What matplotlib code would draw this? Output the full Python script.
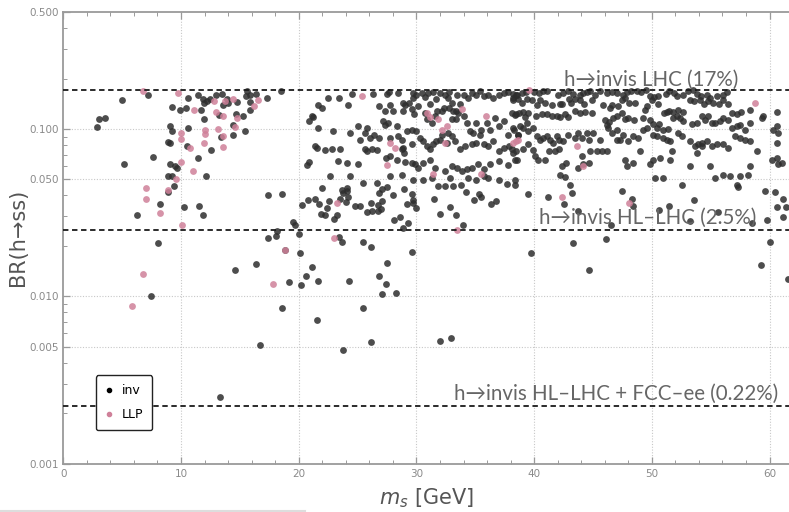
import matplotlib
matplotlib.use("Agg")
import matplotlib.pyplot as plt
from matplotlib.ticker import FixedLocator, FixedFormatter, LogLocator, MultipleLocator, NullFormatter
from matplotlib.lines import Line2D

# invisible-decay points (black)
inv = [
    (2.84, 0.102), (3.06, 0.114), (3.54, 0.116), (4.96, 0.149), (5.13, 0.062), (7.2, 0.16), (7.6, 0.068),
    (9.07, 0.104), (9.26, 0.097), (9.26, 0.136), (8.87, 0.083), (9.07, 0.082), (9.07, 0.062), (9.46, 0.060),
    (9.69, 0.058), (9.94, 0.129), (10.4, 0.133), (10.62, 0.152), (10.57, 0.101), (10.54, 0.079), (11.47, 0.16),
    (11.7, 0.13), (11.84, 0.15), (11.95, 0.143), (12.2, 0.146), (12.46, 0.15), (11.95, 0.115), (11.47, 0.067),
    (12.55, 0.075), (12.97, 0.16), (13.25, 0.121), (13.4, 0.09), (13.48, 0.162), (13.88, 0.15), (13.97, 0.142),
    (13.6, 0.138), (14.73, 0.145), (14.67, 0.122), (15.24, 0.119), (14.39, 0.105), (14.42, 0.092), (15.44, 0.097),
    (15.58, 0.168), (15.52, 0.158), (15.86, 0.16), (15.86, 0.145), (15.84, 0.13), (16.35, 0.162),
    (12.12, 0.0526), (8.92, 0.0526), (9.26, 0.0526), (9.4, 0.0454), (8.92, 0.042), (8.22, 0.0356), (6.29, 0.0304),
    (10.28, 0.0343), (11.55, 0.0346), (11.87, 0.0304), (8.07, 0.0207), (7.42, 0.0100), (14.59, 0.0143),
    (16.4, 0.0156), (16.7, 0.0051), (13.34, 0.0025),
    (17.3, 0.153), (18.5, 0.168), (21.1, 0.119), (20.9, 0.111), (21.2, 0.118), (21.66, 0.138), (21.95, 0.133),
    (21.6, 0.101), (22.5, 0.153), (22.94, 0.097), (23.45, 0.153), (24.16, 0.138), (24.5, 0.162), (26.34, 0.162),
    (27.47, 0.162), (27.7, 0.165), (26.85, 0.137), (27.33, 0.128), (27.75, 0.138), (27.98, 0.128), (28.46, 0.163),
    (28.9, 0.143), (29.03, 0.138), (28.83, 0.128), (29.4, 0.142), (29.68, 0.164), (29.74, 0.153), (30.0, 0.160),
    (29.6, 0.131), (29.8, 0.122), (30.16, 0.137),
    (30.45, 0.164), (30.73, 0.155), (31.0, 0.164), (31.4, 0.166), (31.15, 0.14), (31.7, 0.151), (32.0, 0.164),
    (32.43, 0.16), (32.7, 0.153), (32.8, 0.166), (33.0, 0.143), (33.42, 0.16), (33.36, 0.128), (33.7, 0.14),
    (34.0, 0.16), (34.4, 0.153), (34.7, 0.164), (35.1, 0.16), (35.4, 0.168), (35.7, 0.157), (36.1, 0.16),
    (36.5, 0.153), (37.0, 0.16), (37.4, 0.164), (37.8, 0.166), (38.2, 0.153), (38.5, 0.16),
    (30.73, 0.125), (30.87, 0.114), (31.3, 0.109), (31.58, 0.12), (31.78, 0.128), (32.14, 0.128), (32.3, 0.134),
    (32.8, 0.134), (33.14, 0.128), (33.56, 0.125), (33.0, 0.114), (33.4, 0.114), (34.0, 0.119), (34.26, 0.109),
    (34.55, 0.097), (34.83, 0.095), (35.1, 0.109), (35.5, 0.099), (36.0, 0.109), (36.25, 0.099), (36.7, 0.116),
    (37.0, 0.104), (37.4, 0.111), (37.8, 0.0925), (38.2, 0.101), (38.5, 0.122), (38.66, 0.0925),
    (24.36, 0.0947), (25.06, 0.1037), (25.2, 0.0864), (25.77, 0.101), (25.63, 0.0947), (26.06, 0.088),
    (26.4, 0.0925), (26.85, 0.088), (27.2, 0.111), (27.33, 0.106), (27.6, 0.1086), (27.75, 0.088), (28.32, 0.1037),
    (28.46, 0.0904), (28.75, 0.0864), (28.9, 0.077), (29.17, 0.097), (29.6, 0.099), (29.65, 0.0807), (30.0, 0.097),
    (30.3, 0.088), (30.6, 0.0845), (30.87, 0.0789), (31.15, 0.0753), (31.4, 0.081), (31.7, 0.0845), (32.0, 0.0864),
    (32.57, 0.0825), (32.14, 0.0925), (32.7, 0.0947), (33.0, 0.0904), (33.3, 0.0845), (33.7, 0.0753),
    (34.1, 0.0789), (34.7, 0.0807), (35.1, 0.0825), (35.4, 0.0925), (35.7, 0.0807), (36.1, 0.0789),
    (36.5, 0.0845), (37.0, 0.0736), (37.4, 0.077), (37.9, 0.0789), (38.5, 0.0736),
    (21.38, 0.0789), (21.52, 0.077), (22.23, 0.0746), (22.8, 0.0753), (23.5, 0.0753), (23.36, 0.0641),
    (24.07, 0.0627), (25.06, 0.0613), (25.63, 0.0753), (25.77, 0.0736), (26.2, 0.0753), (26.62, 0.0746),
    (27.4, 0.0672), (27.75, 0.0687), (28.32, 0.0656), (28.75, 0.0753), (28.94, 0.0719), (29.03, 0.0632),
    (29.6, 0.0627), (29.88, 0.0613), (30.16, 0.0585), (30.6, 0.0627), (31.15, 0.0656), (31.58, 0.0585),
    (32.43, 0.0559), (33.0, 0.0599), (33.42, 0.0585), (33.84, 0.0559), (34.27, 0.0572), (34.7, 0.0585),
    (35.26, 0.0613), (35.7, 0.0577), (36.25, 0.0613), (37.0, 0.0641), (37.8, 0.0605), (38.4, 0.0656),
    (20.7, 0.0605), (20.9, 0.0632), (22.66, 0.0521), (24.36, 0.0521), (25.5, 0.0476), (26.62, 0.0476),
    (27.75, 0.0521), (28.75, 0.0533), (29.68, 0.0498), (30.6, 0.0498), (31.3, 0.051), (32.85, 0.051),
    (34.4, 0.051), (35.1, 0.0498), (35.7, 0.0521), (36.1, 0.051), (37.0, 0.0498), (38.4, 0.0498),
    (21.95, 0.0444), (17.42, 0.0405), (18.6, 0.041), (20.3, 0.0353), (20.76, 0.0374), (21.4, 0.0383),
    (21.7, 0.0356), (21.87, 0.031), (22.26, 0.0304), (22.38, 0.0337), (22.57, 0.0369), (22.97, 0.029),
    (23.28, 0.0304), (23.5, 0.0382), (23.65, 0.043), (23.74, 0.0415), (24.08, 0.0424), (24.05, 0.0366),
    (24.16, 0.039), (24.13, 0.0444), (24.8, 0.0345), (25.2, 0.0348), (25.78, 0.0319), (26.1, 0.036),
    (26.25, 0.0322), (26.7, 0.0322), (27.0, 0.033), (26.7, 0.0353), (27.1, 0.0369), (26.85, 0.0414),
    (27.05, 0.0438), (27.48, 0.045), (28.04, 0.0405), (28.1, 0.0287), (28.6, 0.0298), (28.95, 0.0438),
    (28.9, 0.0254), (29.3, 0.0274), (29.2, 0.0358), (29.65, 0.041), (29.7, 0.036), (29.7, 0.0378), (30.0, 0.0337),
    (31.52, 0.0382), (31.86, 0.0454), (32.03, 0.031), (32.43, 0.0454), (32.83, 0.0342), (33.14, 0.0454),
    (33.36, 0.0304), (33.98, 0.0265), (34.2, 0.042), (34.9, 0.0374), (35.3, 0.041), (35.5, 0.0394),
    (36.34, 0.0358), (36.8, 0.0369), (38.38, 0.0465), (33.76, 0.0465), (37.67, 0.0466),
    (19.54, 0.0276), (19.68, 0.0268), (17.42, 0.0224), (18.07, 0.023), (18.18, 0.0245), (20.05, 0.0236),
    (23.45, 0.0226), (23.7, 0.021), (25.44, 0.021), (26.14, 0.0197), (29.6, 0.0183), (18.84, 0.019),
    (20.1, 0.0182), (21.16, 0.0149), (20.6, 0.0132), (20.2, 0.0116), (19.18, 0.0121), (21.64, 0.0124),
    (24.3, 0.0124), (27.5, 0.0158), (26.8, 0.0132), (27.45, 0.0119), (27.05, 0.0103), (28.24, 0.0104),
    (18.6, 0.0085), (25.44, 0.0085), (21.56, 0.0072), (26.14, 0.0053), (23.8, 0.0048), (32.03, 0.0054),
    (32.97, 0.0056),
    (38.18, 0.162), (38.52, 0.160), (38.94, 0.164), (39.31, 0.165), (39.99, 0.165), (40.44, 0.164), (40.78, 0.168),
    (41.12, 0.169), (42.06, 0.160), (42.48, 0.164), (42.91, 0.169), (43.33, 0.162), (43.9, 0.160), (44.18, 0.164),
    (44.52, 0.165), (44.75, 0.168), (45.17, 0.160), (45.6, 0.168), (46.16, 0.164), (46.59, 0.165), (47.01, 0.164),
    (47.58, 0.160), (47.86, 0.165), (48.2, 0.169), (48.71, 0.168), (49.05, 0.165), (49.5, 0.170), (49.84, 0.158),
    (50.18, 0.155), (50.55, 0.157), (51.2, 0.161), (51.49, 0.168), (51.88, 0.164), (52.11, 0.158), (52.68, 0.160),
    (53.1, 0.168), (53.47, 0.170), (53.81, 0.162), (54.15, 0.157), (54.66, 0.160), (54.94, 0.153), (55.51, 0.158),
    (56.08, 0.160), (56.41, 0.165),
    (38.23, 0.1497), (38.66, 0.150), (38.94, 0.143), (39.37, 0.150), (39.79, 0.1497), (40.22, 0.139), (40.5, 0.1497),
    (40.92, 0.143), (41.49, 0.139), (42.2, 0.141), (42.34, 0.14), (42.99, 0.150), (43.1, 0.143), (43.47, 0.151),
    (43.9, 0.1497), (44.24, 0.14), (44.89, 0.1497), (45.88, 0.139), (46.59, 0.139), (46.45, 0.133), (47.15, 0.137),
    (47.44, 0.1497), (47.72, 0.153), (48.09, 0.143), (48.57, 0.143), (49.56, 0.137), (49.42, 0.1305), (49.99, 0.1497),
    (50.55, 0.14), (51.03, 0.125), (51.26, 0.126), (51.49, 0.128), (51.83, 0.126), (52.25, 0.1305), (52.68, 0.126),
    (53.24, 0.1497), (53.61, 0.147), (54.09, 0.1497), (54.43, 0.14), (54.8, 0.147), (55.17, 0.143), (55.74, 0.14),
    (56.08, 0.1497), (56.5, 0.14), (56.78, 0.1246), (57.21, 0.122), (57.55, 0.126), (58.34, 0.1305), (59.47, 0.119),
    (60.6, 0.126),
    (38.1, 0.1246), (38.37, 0.121), (38.74, 0.124), (39.08, 0.126), (39.22, 0.117), (39.51, 0.1246), (40.16, 0.12),
    (40.64, 0.122), (41.07, 0.122), (41.49, 0.119), (41.9, 0.12), (42.2, 0.118), (42.62, 0.122), (42.91, 0.118),
    (43.47, 0.1276), (43.9, 0.1246), (44.32, 0.126), (44.89, 0.1246), (46.02, 0.1137), (46.39, 0.110),
    (46.73, 0.1165), (47.01, 0.119), (47.44, 0.1246), (47.72, 0.114), (48.0, 0.116), (48.49, 0.1137),
    (49.28, 0.1165), (49.84, 0.1137), (50.13, 0.107), (50.41, 0.1015), (50.64, 0.107), (50.98, 0.099), (51.4, 0.100),
    (51.83, 0.116), (52.11, 0.119), (52.39, 0.116), (52.68, 0.1112), (53.38, 0.1075), (53.81, 0.1086),
    (54.23, 0.119), (54.52, 0.1137), (54.8, 0.119), (55.08, 0.1086), (55.37, 0.1086), (55.79, 0.111),
    (56.08, 0.1165), (56.5, 0.1137), (56.78, 0.1015), (57.21, 0.1037), (57.49, 0.106), (57.92, 0.099),
    (58.34, 0.1086), (59.33, 0.116), (60.32, 0.099), (60.6, 0.1037), (60.75, 0.0947),
    (38.29, 0.0991), (38.66, 0.0925), (38.8, 0.1037), (39.08, 0.1015), (39.37, 0.1086), (39.51, 0.0969),
    (39.93, 0.1015), (40.22, 0.0904), (40.5, 0.0864), (40.78, 0.0884), (41.07, 0.0904), (41.35, 0.0864),
    (41.57, 0.0825), (41.9, 0.0904), (42.14, 0.0864), (42.48, 0.0845), (42.91, 0.0925), (43.47, 0.0884),
    (43.76, 0.0947), (44.04, 0.0884), (44.52, 0.0947), (44.69, 0.0864), (45.03, 0.0947), (45.6, 0.0864),
    (46.16, 0.1062), (46.3, 0.1015), (46.59, 0.0947), (47.01, 0.0991), (47.3, 0.0864), (47.58, 0.0925),
    (48.0, 0.0845), (48.43, 0.0904), (48.85, 0.0884), (49.28, 0.0991), (49.56, 0.1015), (50.07, 0.0925),
    (50.41, 0.0904), (50.98, 0.0884), (51.26, 0.0864), (51.54, 0.0845), (52.25, 0.0947), (52.59, 0.0904),
    (53.24, 0.0845), (53.67, 0.0789), (53.95, 0.0807), (54.23, 0.0825), (54.66, 0.0845), (55.08, 0.0789),
    (55.51, 0.0807), (56.08, 0.0817), (56.5, 0.0771), (57.07, 0.0904), (57.49, 0.0884), (57.92, 0.0864),
    (58.34, 0.0845), (60.6, 0.0825),
    (38.1, 0.0753), (38.23, 0.0719), (38.57, 0.0656), (39.08, 0.0753), (39.51, 0.0807), (39.88, 0.0746),
    (40.07, 0.0687), (40.36, 0.0656), (40.92, 0.0656), (41.29, 0.0736), (41.77, 0.0736), (42.14, 0.0753),
    (42.34, 0.0599), (42.71, 0.0627), (42.2, 0.0533), (42.62, 0.0515), (43.05, 0.0465), (43.76, 0.0585),
    (44.04, 0.0687), (44.18, 0.0613), (44.69, 0.0627), (44.75, 0.0736), (45.31, 0.0736), (45.74, 0.0736),
    (46.16, 0.0736), (47.01, 0.0864), (47.72, 0.0656), (47.86, 0.0599), (48.43, 0.0627), (48.99, 0.0736),
    (49.84, 0.0613), (50.13, 0.0656), (50.27, 0.051), (50.69, 0.0672), (50.98, 0.051), (51.54, 0.0656),
    (51.69, 0.0736), (52.54, 0.046), (53.24, 0.0599), (53.81, 0.0719), (54.23, 0.0789), (54.94, 0.0599),
    (55.37, 0.051), (56.08, 0.0533), (56.64, 0.0521), (57.21, 0.046), (57.49, 0.0521), (58.2, 0.0533),
    (58.34, 0.0599), (58.91, 0.0736), (60.18, 0.0656), (60.6, 0.0672), (60.75, 0.0613), (61.03, 0.0627),
    (39.5, 0.041), (41.15, 0.039), (42.54, 0.0356), (43.2, 0.0414), (39.74, 0.018), (43.28, 0.0207),
    (44.7, 0.0143), (46.1, 0.022), (46.5, 0.0268), (43.7, 0.0322), (47.5, 0.0424), (48.3, 0.0382),
    (48.4, 0.0345), (50.6, 0.0326), (51.46, 0.0345), (53.6, 0.0374), (53.24, 0.0281), (55.65, 0.0319),
    (57.3, 0.045), (58.54, 0.0274), (59.6, 0.0424), (60.5, 0.042), (61.17, 0.038), (60.67, 0.034),
    (61.4, 0.034), (61.1, 0.0299), (59.8, 0.0287), (60.0, 0.021), (59.3, 0.0154), (61.6, 0.0126),
]

# long-lived particle points (pink)
llp = [
    (6.8, 0.168), (9.97, 0.095), (9.97, 0.087), (9.97, 0.063), (9.72, 0.164), (10.76, 0.077), (11.13, 0.129),
    (12.0, 0.098), (12.0, 0.093), (11.95, 0.082), (12.83, 0.146), (12.97, 0.126), (13.12, 0.1), (13.54, 0.119),
    (13.6, 0.091), (13.6, 0.078), (13.74, 0.146), (14.39, 0.151), (14.73, 0.116), (14.6, 0.102), (16.2, 0.137),
    (16.52, 0.148),
    (11.05, 0.056), (9.58, 0.050), (8.87, 0.043), (7.03, 0.0444), (7.03, 0.038), (8.22, 0.0314), (10.06, 0.0268),
    (6.8, 0.0135), (5.86, 0.0087),
    (25.35, 0.157), (30.9, 0.125), (31.15, 0.117), (31.86, 0.115), (32.2, 0.099), (32.57, 0.104), (32.4, 0.0825),
    (33.9, 0.132), (35.9, 0.12), (27.75, 0.082), (28.18, 0.0767), (27.47, 0.061), (31.4, 0.054), (35.46, 0.054),
    (23.28, 0.0361), (22.97, 0.0224), (17.82, 0.0119), (18.84, 0.019), (33.48, 0.0249),
    (39.59, 0.170), (58.77, 0.142), (38.23, 0.0825), (38.46, 0.0845), (38.66, 0.0864), (43.61, 0.0789),
    (44.12, 0.0599), (42.4, 0.039), (48.06, 0.036),
]

# h -> invisible limits
limits = [0.17, 0.025, 0.0022]
limit_labels = ["h\u2192invis LHC (17%)", "h\u2192invis HL\u2013LHC (2.5%)",
                "h\u2192invis HL\u2013LHC + FCC\u2013ee (0.22%)"]
label_x = [57.3, 58.9, 60.7]
label_y = [0.1815, 0.0272, 0.00241]

ytick_vals = [0.001, 0.005, 0.010, 0.050, 0.100, 0.500]
ytick_text = ["0.001", "0.005", "0.010", "0.050", "0.100", "0.500"]

fig = plt.figure(figsize=(7.89, 5.12), dpi=100)
ax = fig.add_axes([0.0802, 0.0947, 0.9198, 0.882])

ax.set_yscale("log")
ax.set_xlim(0, 61.65)
ax.set_ylim(0.001, 0.5)

# grid
for gx in [10, 20, 30, 40, 50, 60]:
    ax.axvline(gx, color="#c8c8c8", lw=0.8, ls=(0, (1, 1.5)), zorder=0)
for gy in [0.005, 0.01, 0.05, 0.1]:
    ax.axhline(gy, color="#c8c8c8", lw=0.8, ls=(0, (1, 1.5)), zorder=0)

ax.scatter([p[0] for p in inv], [p[1] for p in inv], s=24, color="#2e2e2e", alpha=0.85,
           linewidths=0, zorder=3)
ax.scatter([p[0] for p in llp], [p[1] for p in llp], s=24, color="#cf8099", alpha=0.85,
           linewidths=0, zorder=4)

for yv in limits:
    ax.axhline(yv, color="#1a1a1a", lw=1.3, ls=(0, (3, 2)), zorder=5)
for tx, ty, lab in zip(label_x, label_y, limit_labels):
    ax.text(tx, ty, lab, ha="right", va="baseline", fontsize=14.8, color="#666666",
            family=["Lato", "DejaVu Sans"], zorder=6)

# frame: grey with inward ticks
for side in ["left", "bottom", "top"]:
    ax.spines[side].set_color("#9a9a9a")
    ax.spines[side].set_linewidth(1.3)
ax.spines["right"].set_visible(False)

ax.yaxis.set_major_locator(FixedLocator(ytick_vals))
ax.yaxis.set_major_formatter(FixedFormatter(ytick_text))
ax.yaxis.set_minor_locator(LogLocator(base=10, subs=[2, 3, 4, 6, 7, 8, 9]))
ax.yaxis.set_minor_formatter(NullFormatter())
ax.xaxis.set_major_locator(MultipleLocator(10))
ax.xaxis.set_minor_locator(MultipleLocator(2))
ax.tick_params(which="both", direction="in", color="#9a9a9a", labelcolor="#8a8a8a",
               labelsize=7.5, top=True, right=False)
ax.tick_params(which="major", length=5, width=0.9)
ax.tick_params(which="minor", length=3, width=0.7)
ax.tick_params(axis="x", pad=4)

ax.set_xlabel("$m_s$ [GeV]", fontsize=15, color="#555555", labelpad=5)
ax.set_ylabel("BR(h\u2192ss)", fontsize=15, color="#555555", labelpad=1)

handles = [Line2D([], [], ls="", marker="o", ms=3, color="#000000"),
           Line2D([], [], ls="", marker="o", ms=3, color="#cf8099")]
leg = ax.legend(handles, ["inv", "LLP"], loc="upper left", bbox_to_anchor=(0.045, 0.196),
                fontsize=9, frameon=True, fancybox=True, handlelength=0.6, handletextpad=0.7,
                borderpad=0.75, labelspacing=0.85, borderaxespad=0)
leg.get_frame().set_edgecolor("#222222")
leg.get_frame().set_linewidth(1.0)
leg.get_frame().set_alpha(1)

fig.add_artist(Line2D([0, 0.387], [0.002, 0.002], color="#dddddd", lw=1.5))

fig.savefig("out.png", dpi=100)
